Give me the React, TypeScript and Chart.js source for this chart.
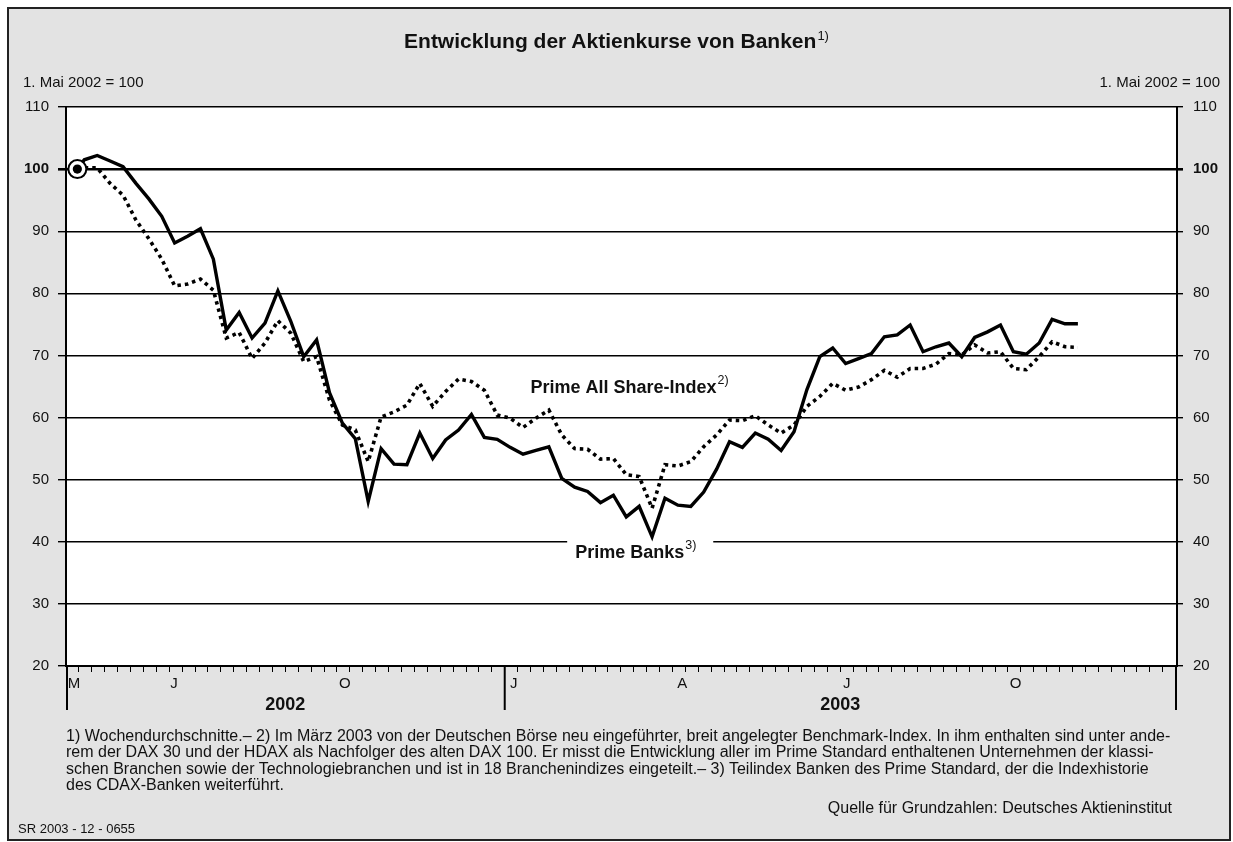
import React, { useEffect, useRef } from 'react';
import { Chart, registerables } from 'chart.js';

Chart.register(...registerables);

const FONT = '"Liberation Sans", Arial, Helvetica, sans-serif';
const W = 1233;
const H = 842;
const PLOT_LEFT = 66;
const PLOT_RIGHT = 1177;
const PLOT_TOP = 107;
const PLOT_BOTTOM = 666;

// x axis is measured in weeks from 1 May 2002
const X_MAX = 86.1;
const FIRST_X = 0.88;
const WEEK_OFFSET = 0.42;

// Prime Banks (solid line), weekly averages, 1 May 2002 = 100
const primeBanks = [
  100, 101.5, 102.2, 101.3, 100.4, 97.7, 95.2, 92.4, 88.1, 89.2,
  90.4, 85.5, 74.1, 76.9, 72.8, 75.2, 80.4, 75.5, 69.8, 72.5,
  64.0, 59.1, 56.6, 46.5, 55.0, 52.5, 52.4, 57.5, 53.4, 56.4,
  58.0, 60.5, 56.8, 56.5, 55.2, 54.1, 54.7, 55.3, 50.2, 48.8,
  48.1, 46.3, 47.5, 44.0, 45.7, 40.8, 47.0, 45.9, 45.7, 48.0,
  51.7, 56.1, 55.2, 57.5, 56.5, 54.7, 57.7, 64.5, 69.8, 71.2,
  68.7, 69.5, 70.3, 73.0, 73.3, 74.9, 70.6, 71.4, 72.0, 69.8,
  72.9, 73.8, 74.9, 70.6, 70.2, 72.0, 75.8, 75.1, 75.1,
];

// Prime All Share-Index (dotted line)
const primeAllShare = [
  100, 100.2, 100.2, 97.7, 95.8, 91.8, 88.8, 85.5, 81.2, 81.5,
  82.3, 80.5, 72.8, 73.7, 69.5, 72.0, 75.6, 73.6, 69.0, 69.8,
  62.8, 58.8, 58.0, 52.9, 60.1, 60.9, 62.0, 65.5, 61.8, 64.2,
  66.2, 65.8, 64.4, 60.4, 59.9, 58.4, 59.9, 61.2, 57.2, 55.0,
  54.9, 53.3, 53.4, 50.8, 50.5, 45.4, 52.4, 52.2, 52.9, 55.3,
  57.2, 59.6, 59.5, 60.3, 58.8, 57.5, 58.8, 61.8, 63.4, 65.5,
  64.4, 64.9, 66.1, 67.6, 66.5, 67.9, 67.9, 68.6, 70.3, 70.1,
  71.7, 70.4, 70.6, 67.9, 67.7, 69.8, 72.2, 71.4, 71.3,
];

const Y_MIN = 20;
const Y_MAX = 110;
const Y_STEP = 10;
const BASE_VALUE = 100;

const monthLabels = ['M', 'J', 'O', 'J', 'A', 'J', 'O'];
const monthPos = [0.62, 8.37, 21.6, 34.7, 47.75, 60.5, 73.6];
const yearLabels = ['2002', '2003'];
const yearPos = [17.0, 60.0];
const yearBreaks = [0, 34, X_MAX];
const WEEK_TICK_COUNT = 86;

const allShareLabel = { text: 'Prime All Share-Index', sup: '2)', x: 36.0, y: 64.77 };
const banksLabel = { text: 'Prime Banks', sup: '3)', x: 39.46, y: 38.2 };
const banksBox = { x0: 38.84, x1: 50.16, y0: 40.3, y1: 36.5 };

const footnotes = [
  '1) Wochendurchschnitte.\u2013 2) Im März 2003 von der Deutschen Börse neu eingeführter, breit angelegter Benchmark-Index. In ihm enthalten sind unter ande-',
  'rem der DAX 30 und der HDAX als Nachfolger des alten DAX 100. Er misst die Entwicklung aller im Prime Standard enthaltenen Unternehmen der klassi-',
  'schen Branchen sowie der Technologiebranchen und ist in 18 Branchenindizes eingeteilt.\u2013 3) Teilindex Banken des Prime Standard, der die Indexhistorie',
  'des CDAX-Banken weiterführt.',
];

const xOf = (i: number) => (i === 0 ? FIRST_X : i + WEEK_OFFSET);

function drawLabel(ctx: CanvasRenderingContext2D, chart: any, lab: any) {
  const xs = chart.scales.x;
  const ys = chart.scales.y;
  const px = xs.getPixelForValue(lab.x);
  const py = ys.getPixelForValue(lab.y);
  ctx.save();
  ctx.fillStyle = '#111';
  ctx.textBaseline = 'middle';
  ctx.textAlign = 'left';
  ctx.font = `bold 18px ${FONT}`;
  ctx.fillText(lab.text, px, py);
  const w = ctx.measureText(lab.text).width;
  ctx.font = `12.5px ${FONT}`;
  ctx.fillText(lab.sup, px + w + 1, py - 7);
  ctx.restore();
}

const decorPlugin = {
  id: 'decor',
  beforeDraw(chart: any) {
    const { ctx, chartArea: a } = chart;
    ctx.save();
    ctx.fillStyle = '#ffffff';
    ctx.fillRect(a.left, a.top, a.right - a.left, a.bottom - a.top);
    ctx.restore();
  },
  beforeDatasetsDraw(chart: any) {
    const { ctx } = chart;
    const xs = chart.scales.x;
    const ys = chart.scales.y;
    const x0 = xs.getPixelForValue(banksBox.x0);
    const x1 = xs.getPixelForValue(banksBox.x1);
    const y0 = ys.getPixelForValue(banksBox.y0);
    const y1 = ys.getPixelForValue(banksBox.y1);
    ctx.save();
    ctx.fillStyle = '#ffffff';
    ctx.fillRect(x0, y0, x1 - x0, y1 - y0);
    ctx.restore();
  },
  afterDatasetsDraw(chart: any) {
    const { ctx } = chart;
    drawLabel(ctx, chart, allShareLabel);
    drawLabel(ctx, chart, banksLabel);
  },
  afterDraw(chart: any) {
    const { ctx, chartArea: a } = chart;
    const xs = chart.scales.x;
    ctx.save();
    ctx.strokeStyle = '#000';
    ctx.lineWidth = 2;
    yearBreaks.forEach((v) => {
      let px = xs.getPixelForValue(v);
      if (v === 0) px += 1;
      if (v === X_MAX) px -= 1;
      ctx.beginPath();
      ctx.moveTo(px, a.bottom);
      ctx.lineTo(px, a.bottom + 44);
      ctx.stroke();
    });
    ctx.fillStyle = '#111';
    ctx.textBaseline = 'middle';
    ctx.textAlign = 'center';
    ctx.font = `15px ${FONT}`;
    monthLabels.forEach((m, i) => {
      ctx.fillText(m, xs.getPixelForValue(monthPos[i]), a.bottom + 18);
    });
    ctx.font = `bold 18px ${FONT}`;
    yearLabels.forEach((y, i) => {
      ctx.fillText(y, xs.getPixelForValue(yearPos[i]), a.bottom + 39);
    });
    ctx.restore();
  },
};

export default function App() {
  const canvasRef = useRef<HTMLCanvasElement | null>(null);

  useEffect(() => {
    if (!canvasRef.current) return;
    const banksData = primeBanks.map((v, i) => ({ x: xOf(i), y: v }));
    const shareData = primeAllShare.map((v, i) => ({ x: xOf(i), y: v }));
    const tickFont = (c: any) => ({
      family: FONT,
      size: 15,
      weight: c.tick && c.tick.value === BASE_VALUE ? 'bold' : 'normal',
    });
    const chart = new Chart(canvasRef.current, {
      type: 'line',
      data: {
        datasets: [
          {
            label: 'Prime Banks',
            data: banksData,
            borderColor: '#000',
            borderWidth: 3.4,
            borderJoinStyle: 'miter',
            pointRadius: 0,
            tension: 0,
            order: 1,
          },
          {
            label: 'Prime All Share-Index',
            data: shareData,
            borderColor: '#000',
            borderWidth: 3.6,
            borderDash: [3.5, 4],
            borderCapStyle: 'butt',
            pointRadius: 0,
            tension: 0,
            order: 2,
          },
          {
            label: 'Basis',
            type: 'scatter',
            data: [{ x: FIRST_X, y: BASE_VALUE }],
            pointRadius: 9,
            pointBackgroundColor: '#fff',
            pointBorderColor: '#000',
            pointBorderWidth: 2,
            order: -1,
          },
          {
            label: 'Basis-Punkt',
            type: 'scatter',
            data: [{ x: FIRST_X, y: BASE_VALUE }],
            pointRadius: 4.6,
            pointBackgroundColor: '#000',
            pointBorderWidth: 0,
            order: -2,
          },
        ],
      } as any,
      options: {
        responsive: false,
        animation: false,
        devicePixelRatio: 1,
        layout: { padding: { top: PLOT_TOP, left: 0, right: 0, bottom: 0 } },
        plugins: {
          legend: { display: false },
          tooltip: { enabled: false },
          title: { display: false },
        },
        scales: {
          x: {
            type: 'linear',
            position: 'bottom',
            min: 0,
            max: X_MAX,
            afterBuildTicks: (s: any) => {
              s.ticks = Array.from({ length: WEEK_TICK_COUNT }, (_, k) => ({ value: k }));
            },
            afterFit: (s: any) => {
              s.height = H - PLOT_BOTTOM;
            },
            ticks: { display: false },
            grid: {
              drawOnChartArea: false,
              drawTicks: true,
              tickLength: 6,
              color: '#000',
              lineWidth: 1,
            },
            border: { display: true, color: '#000', width: 2 },
          },
          y: {
            type: 'linear',
            position: 'left',
            min: Y_MIN,
            max: Y_MAX,
            afterFit: (s: any) => {
              s.width = PLOT_LEFT;
            },
            ticks: { stepSize: Y_STEP, color: '#111', padding: 9, font: tickFont as any },
            grid: {
              drawOnChartArea: true,
              drawTicks: true,
              tickLength: 8,
              color: '#000',
              lineWidth: (c: any) => (c.tick && c.tick.value === BASE_VALUE ? 2.6 : 1.4),
            },
            border: { display: true, color: '#000', width: 2 },
          },
          y2: {
            type: 'linear',
            position: 'right',
            min: Y_MIN,
            max: Y_MAX,
            afterFit: (s: any) => {
              s.width = W - PLOT_RIGHT;
            },
            ticks: { stepSize: Y_STEP, color: '#111', padding: 10, font: tickFont as any },
            grid: {
              drawOnChartArea: false,
              drawTicks: true,
              tickLength: 6,
              color: '#000',
              lineWidth: (c: any) => (c.tick && c.tick.value === BASE_VALUE ? 2.6 : 1.4),
            },
            border: { display: true, color: '#000', width: 2 },
          },
        },
      } as any,
      plugins: [decorPlugin],
    });
    return () => chart.destroy();
  }, []);

  const txt: React.CSSProperties = {
    position: 'absolute',
    fontFamily: FONT,
    color: '#111',
    whiteSpace: 'nowrap',
  };

  return (
    <div style={{ position: 'fixed', left: 0, top: 0, width: W, height: H, background: '#fff', overflow: 'hidden' }}>
      <div
        style={{
          position: 'absolute',
          left: 7,
          top: 7,
          width: 1224,
          height: 834,
          boxSizing: 'border-box',
          border: '2px solid #222',
          background: '#e3e3e3',
        }}
      />
      <canvas
        ref={canvasRef}
        width={W}
        height={H}
        style={{ position: 'absolute', left: 0, top: 0, width: W, height: H }}
      />
      <div style={{ ...txt, left: 0, top: 29, width: W, textAlign: 'center', fontSize: 21, fontWeight: 'bold', lineHeight: '24px' }}>
        Entwicklung der Aktienkurse von Banken
        <span style={{ fontSize: 13, fontWeight: 'normal', position: 'relative', top: -8, marginLeft: 1 }}>1)</span>
      </div>
      <div style={{ ...txt, left: 23, top: 73, fontSize: 15, lineHeight: '18px' }}>1. Mai 2002 = 100</div>
      <div style={{ ...txt, right: 13, top: 73, fontSize: 15, lineHeight: '18px', textAlign: 'right' }}>1. Mai 2002 = 100</div>
      {footnotes.map((line, i) => (
        <div key={i} style={{ ...txt, left: 66, top: 727.5 + i * 16.5, fontSize: 16, lineHeight: '16.5px' }}>
          {line}
        </div>
      ))}
      <div style={{ ...txt, right: 61, top: 799, fontSize: 16, lineHeight: '18px', textAlign: 'right' }}>
        Quelle für Grundzahlen: Deutsches Aktieninstitut
      </div>
      <div style={{ ...txt, left: 18, top: 821, fontSize: 13, lineHeight: '16px' }}>SR 2003 - 12 - 0655</div>
    </div>
  );
}
